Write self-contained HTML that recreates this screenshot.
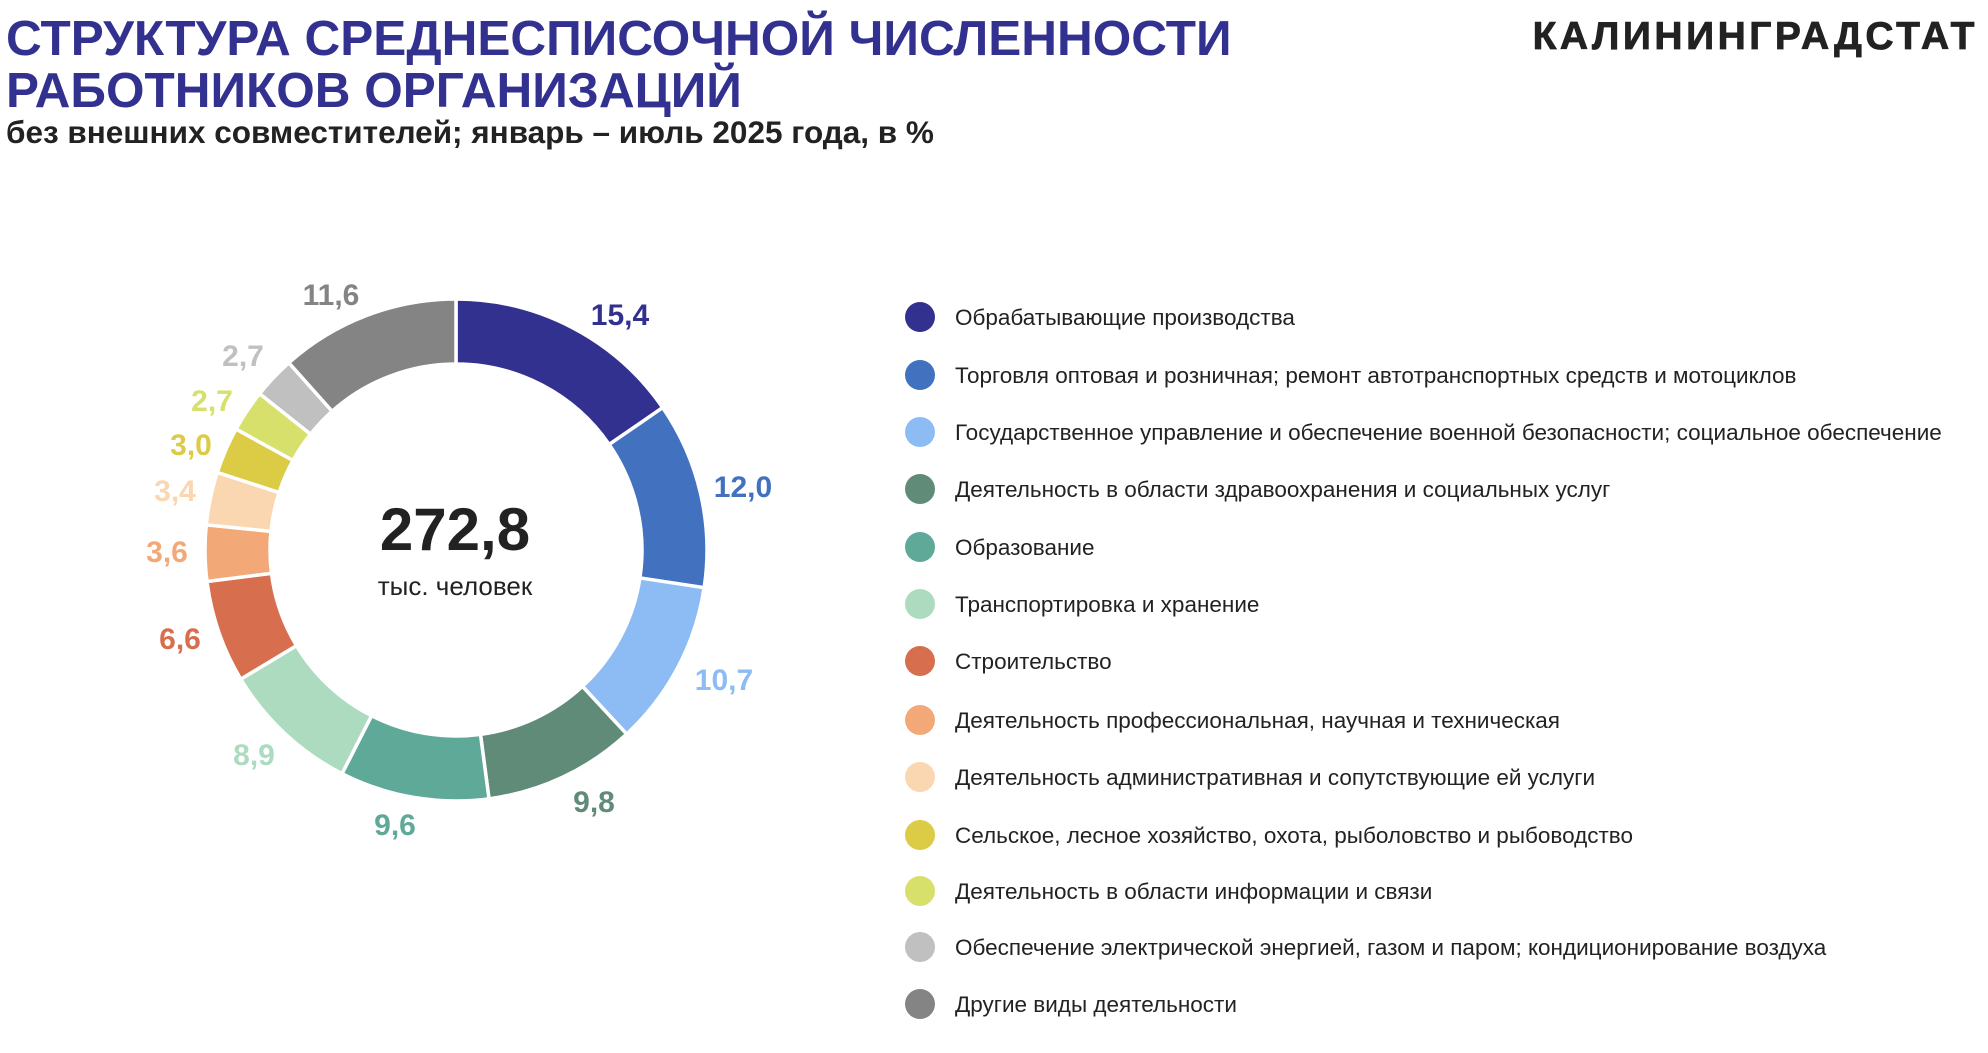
<!DOCTYPE html>
<html><head><meta charset="utf-8"><style>
body{margin:0;width:1988px;height:1048px;background:#fff;overflow:hidden;font-family:"Liberation Sans",sans-serif}
</style></head><body>
<svg width="1988" height="1048" xmlns="http://www.w3.org/2000/svg" font-family="Liberation Sans, sans-serif">
<text x="6" y="55" font-size="49.5" font-weight="bold" fill="#33318f">СТРУКТУРА СРЕДНЕСПИСОЧНОЙ ЧИСЛЕННОСТИ</text>
<text x="6" y="107" font-size="49.5" font-weight="bold" fill="#33318f">РАБОТНИКОВ ОРГАНИЗАЦИЙ</text>
<text x="6" y="143" font-size="31.5" font-weight="bold" fill="#222">без внешних совместителей; январь – июль 2025 года, в %</text>
<text x="1978" y="49" font-size="39" font-weight="bold" fill="#222" text-anchor="end" letter-spacing="3.5" stroke="#222" stroke-width="0.8">КАЛИНИНГРАДСТАТ</text>
<g id="donut"></g>
<text x="455" y="550" font-size="60" font-weight="bold" fill="#222" text-anchor="middle">272,8</text>
<text x="455" y="595" font-size="26" fill="#222" text-anchor="middle">тыс. человек</text>
<g font-size="30" font-weight="bold" text-anchor="middle">
<text x="620" y="325" fill="#33318f">15,4</text>
<text x="743" y="497" fill="#4171bf">12,0</text>
<text x="724" y="690" fill="#8dbcf5">10,7</text>
<text x="594" y="812" fill="#5f8b78">9,8</text>
<text x="395" y="835" fill="#5fa998">9,6</text>
<text x="254" y="765" fill="#acdbc0">8,9</text>
<text x="180" y="649" fill="#d76f4f">6,6</text>
<text x="167" y="562" fill="#f3a878">3,6</text>
<text x="175" y="501" fill="#fad7b1">3,4</text>
<text x="191" y="455" fill="#dccc45">3,0</text>
<text x="212" y="411" fill="#d6e06b">2,7</text>
<text x="243" y="366" fill="#c0c0c0">2,7</text>
<text x="331" y="305" fill="#848484">11,6</text>
</g>
<g font-size="22.5" fill="#222" id="leg"></g>
</svg>
<script>
var vals=[15.4,12.0,10.7,9.8,9.6,8.9,6.6,3.6,3.4,3.0,2.7,2.7,11.6];
var cols=["#33318f","#4171bf","#8dbcf5","#5f8b78","#5fa998","#acdbc0","#d76f4f","#f3a878","#fad7b1","#dccc45","#d6e06b","#c0c0c0","#848484"];
var names=["Обрабатывающие производства","Торговля оптовая и розничная; ремонт автотранспортных средств и мотоциклов","Государственное управление и обеспечение военной безопасности; социальное обеспечение","Деятельность в области здравоохранения и социальных услуг","Образование","Транспортировка и хранение","Строительство","Деятельность профессиональная, научная и техническая","Деятельность административная и сопутствующие ей услуги","Сельское, лесное хозяйство, охота, рыболовство и рыбоводство","Деятельность в области информации и связи","Обеспечение электрической энергией, газом и паром; кондиционирование воздуха","Другие виды деятельности"];
var cx=456,cy=550,R=251,r=186,a=0,h="";
function p(rad,ang){return [cx+rad*Math.sin(ang),cy-rad*Math.cos(ang)];}
vals.forEach(function(v,i){var a0=a*Math.PI/50,a1=(a+v)*Math.PI/50;a+=v;var L=(v>50)?1:0;
var o0=p(R,a0),o1=p(R,a1),i1=p(r,a1),i0=p(r,a0);
h+='<path d="M'+o0+'A'+R+','+R+' 0 '+L+' 1 '+o1+'L'+i1+'A'+r+','+r+' 0 '+L+' 0 '+i0+'Z" fill="'+cols[i]+'" stroke="#fff" stroke-width="3.5"/>';});
document.getElementById('donut').innerHTML=h;
var ys=[317,375,432,489,547,604,661,720,777,835,891,947,1004],g="";
names.forEach(function(n,i){g+='<circle cx="920" cy="'+ys[i]+'" r="15" fill="'+cols[i]+'"/><text x="955" y="'+(ys[i]+8)+'">'+n+'</text>';});
document.getElementById('leg').innerHTML=g;
</script>
</body></html>
